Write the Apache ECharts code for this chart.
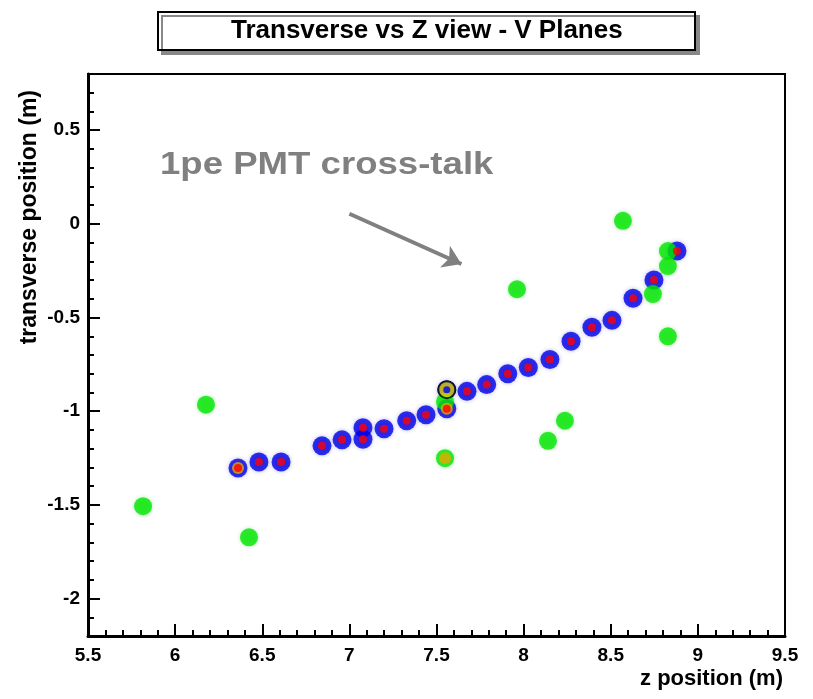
<!DOCTYPE html>
<html>
<head>
<meta charset="utf-8">
<script src="https://cdn.jsdelivr.net/npm/echarts@6/dist/echarts.min.js"></script>
<style>
  html, body { margin: 0; padding: 0; background: #fff; }
  #chart { width: 813px; height: 699px; }
</style>
</head>
<body>
<div id="chart"></div>
<script>
// hits along the track (blue with red core)
const hitZ = [6.361, 6.481, 6.608, 6.843, 6.958, 7.078, 7.078, 7.199, 7.329, 7.440,
  7.559, 7.559, 7.675, 7.788, 7.909, 8.027, 8.151, 8.272, 8.392, 8.507, 8.628, 8.748, 8.880]
const hitV = [-1.303, -1.271, -1.271, -1.185, -1.153, -1.088, -1.150, -1.094, -1.051, -1.019,
  -0.885, -0.987, -0.894, -0.858, -0.800, -0.767, -0.724, -0.627, -0.552, -0.515, -0.397, -0.300, -0.145]
// cross-talk hits (green)
const xtalkZ = [5.816, 6.177, 6.424, 7.549, 7.549, 7.962, 8.140, 8.237, 8.570, 8.742, 8.828, 8.828, 8.828]
const xtalkV = [-1.507, -0.965, -1.673, -1.251, -0.949, -0.349, -1.158, -1.051, 0.016, -0.375, -0.145, -0.225, -0.600]
// hits with a warmer (yellow/orange) ring
const warmZ = [6.361, 7.559, 7.549]
const warmV = [-1.303, -0.987, -1.251]
// hit with the dark outline
const darkZ = [7.559]
const darkV = [-0.885]

const xTicks = [5.5, 6, 6.5, 7, 7.5, 8, 8.5, 9, 9.5]
const yTicks = [-2, -1.5, -1, -0.5, 0, 0.5]

const pts = (zs, vs) => zs.map((z, i) => [z, vs[i]])

const chart = echarts.init(document.getElementById('chart'))

const labelFont = {
  color: '#000',
  fontFamily: 'Liberation Sans',
  fontWeight: 'bold',
  fontSize: 19
}

const option = {
  animation: false,
  title: {
    text: 'Transverse vs Z view - V Planes',
    left: 158,
    top: 12,
    padding: [6, 73, 6, 73],
    backgroundColor: '#fff',
    borderColor: '#000',
    borderWidth: 2,
    shadowColor: '#888',
    shadowOffsetX: 4,
    shadowOffsetY: 4,
    shadowBlur: 0,
    textStyle: {
      color: '#000',
      fontFamily: 'Liberation Sans',
      fontWeight: 'bold',
      fontSize: 26
    }
  },
  grid: {
    left: 88,
    right: 28,
    top: 74,
    bottom: 63,
    show: true,
    borderColor: '#000',
    borderWidth: 2,
    backgroundColor: '#fff'
  },
  xAxis: {
    type: 'value',
    min: xTicks[0],
    max: xTicks[xTicks.length - 1],
    interval: 0.5,
    axisLine: { onZero: false, lineStyle: { color: '#000', width: 3 } },
    axisTick: { inside: true, length: 12, lineStyle: { color: '#000', width: 2 } },
    minorTick: { show: true, splitNumber: 5, length: 6, lineStyle: { color: '#000', width: 2 } },
    splitLine: { show: false },
    axisLabel: Object.assign({ margin: 10 }, labelFont)
  },
  yAxis: [
    {
      type: 'value',
      min: -2.2,
      max: 0.8,
      axisLine: { onZero: false, lineStyle: { color: '#000', width: 3 } },
      axisTick: { inside: true, length: 12, customValues: yTicks, lineStyle: { color: '#000', width: 2 } },
      splitLine: { show: false },
      axisLabel: Object.assign({ margin: 8, customValues: yTicks }, labelFont)
    },
    {
      type: 'value',
      min: -2.2,
      max: 0.8,
      interval: 0.1,
      position: 'left',
      axisLine: { show: false },
      axisTick: { inside: true, length: 6, lineStyle: { color: '#000', width: 2 } },
      splitLine: { show: false },
      axisLabel: { show: false }
    }
  ],
  graphic: [
    {
      type: 'text',
      x: 160,
      y: 150,
      scaleX: 1.18,
      style: {
        text: '1pe PMT cross-talk',
        fill: '#808080',
        font: 'bold 31px "Liberation Sans"'
      }
    },
    {
      type: 'text',
      x: 30,
      y: 90,
      rotation: Math.PI / 2,
      style: {
        text: 'transverse position (m)',
        fill: '#000',
        font: 'bold 23px "Liberation Sans"',
        textAlign: 'right',
        textVerticalAlign: 'middle'
      }
    },
    {
      type: 'text',
      right: 30,
      top: 668,
      style: {
        text: 'z position (m)',
        fill: '#000',
        font: 'bold 22px "Liberation Sans"'
      }
    }
  ],
  series: [
    {
      name: 'hits',
      type: 'scatter',
      data: pts(hitZ, hitV),
      symbol: 'circle',
      symbolSize: 19,
      itemStyle: { color: '#0000e6', shadowColor: 'rgba(0,0,200,0.35)', shadowBlur: 4 }
    },
    {
      name: 'cross-talk',
      type: 'scatter',
      data: pts(xtalkZ, xtalkV),
      symbol: 'circle',
      symbolSize: 18,
      itemStyle: { color: '#00e600', shadowColor: 'rgba(0,200,0,0.35)', shadowBlur: 4 },
      markLine: {
        silent: true,
        symbol: ['none', 'arrow'],
        symbolSize: 18,
        label: { show: false },
        lineStyle: { color: '#808080', width: 4, type: 'solid' },
        data: [[{ coord: [7.0, 0.054] }, { coord: [7.643, -0.214] }]]
      }
    },
    {
      name: 'dark',
      type: 'scatter',
      data: pts(darkZ, darkV),
      symbol: 'circle',
      symbolSize: 17,
      itemStyle: { color: '#e0d000', borderColor: '#000', borderWidth: 2 }
    },
    {
      name: 'warm',
      type: 'scatter',
      data: pts(warmZ, warmV),
      symbol: 'circle',
      symbolSize: 12,
      itemStyle: { color: '#e8a800' }
    },
    {
      name: 'core',
      type: 'scatter',
      data: pts(hitZ, hitV).filter((p) => !(p[0] === darkZ[0] && p[1] === darkV[0])),
      symbol: 'circle',
      symbolSize: 8,
      itemStyle: { color: '#ff0000' }
    },
    {
      name: 'dark core',
      type: 'scatter',
      data: pts(darkZ, darkV),
      symbol: 'circle',
      symbolSize: 7,
      itemStyle: { color: '#0000e6' }
    }
  ]
}

chart.setOption(option)

window.addEventListener('resize', function () {
  chart.resize()
})
</script>
</body>
</html>
